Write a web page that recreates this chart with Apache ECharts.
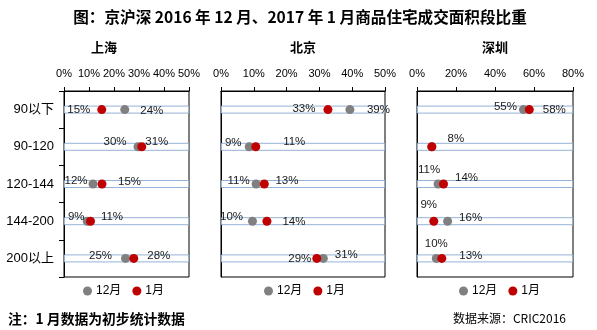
<!DOCTYPE html>
<html>
<head>
<meta charset="utf-8">
<script src="https://cdn.jsdelivr.net/npm/echarts@6/dist/echarts.min.js"></script>
<style>
html,body{margin:0;padding:0;background:#fff;}
#c{width:597px;height:330px;}
</style>
</head>
<body>
<div id="c"></div>
<script>
// ---- data ----
const categories = ['90以下', '90-120', '120-144', '144-200', '200以上'];
const cities = ['上海', '北京', '深圳'];
const shanghaiDec = [24.3, 29.6, 11.6, 9.3, 24.6];
const shanghaiJan = [15.1, 31.1, 15.2, 10.6, 27.9];
const beijingDec = [39.3, 8.6, 10.7, 9.6, 31.2];
const beijingJan = [32.6, 10.6, 13.2, 14.0, 29.2];
const shenzhenDec = [54.6, 7.6, 10.8, 15.7, 9.9];
const shenzhenJan = [57.6, 7.6, 13.6, 8.6, 12.7];
const axisMax = [50, 50, 80];
const axisInterval = [10, 10, 20];
const seriesNames = ['12月', '1月'];

// ---- label offsets (layout only) ----
const labelOffDec = [
  [[27, 1], [-23, -4.5], [-17, -3], [-11, -4], [-25, -2.7]],
  [[28.5, 0.4], [-16, -3.5], [-17.5, -3], [-21, -4.5], [23, -4]],
  [[-18, -2.3], null, [-9, -14], [23, -2.9], [0, -15]]
];
const labelOffJan = [
  [[-23, 0], [15, -5], [27.5, -1.7], [21.5, -4], [25, -2.7]],
  [[-24, -1], [38.5, -4.5], [22.6, -3], [27, 0.5], [-17, 0]],
  [[25, 0.4], [24, -8], [23, -6.3], [-5, -16], [29, -2.7]]
];

const decData = [shanghaiDec, beijingDec, shenzhenDec];
const janData = [shanghaiJan, beijingJan, shenzhenJan];

const grids = [
  {left: 64, top: 91, width: 125, height: 186},
  {left: 221, top: 91, width: 164, height: 186},
  {left: 417, top: 91, width: 156, height: 186}
];
const FONT = '"Liberation Sans", Arial, "Noto Sans CJK SC", sans-serif';
const CJK = '"Noto Sans CJK SC", "Liberation Sans", sans-serif';
const RED = '#c00000', GRAY = '#808080', BLUE = '#95b3d7';

function pts(vals, offs) {
  return vals.map((v, i) => {
    const o = offs[i];
    return {
      value: [v, categories[i]],
      label: o ? {show: true, offset: o} : {show: false}
    };
  });
}

const xAxis = [], yAxis = [], series = [], legend = [];
for (let k = 0; k < 3; k++) {
  xAxis.push({
    gridIndex: k, type: 'value', position: 'top', min: 0, max: axisMax[k], interval: axisInterval[k],
    axisLine: {show: true, lineStyle: {color: '#000', width: 1}},
    axisTick: {show: true, length: 4, inside: false, lineStyle: {color: '#000'}},
    axisLabel: {formatter: '{value}%', fontSize: 11, color: '#000', margin: 12, fontFamily: FONT},
    splitLine: {show: false}
  });
  yAxis.push({
    gridIndex: k, type: 'category', inverse: true, data: categories,
    axisLine: {show: true, lineStyle: {color: '#000', width: 1}},
    axisTick: {show: k === 0, length: 5, lineStyle: {color: '#000'}},
    axisLabel: {show: k === 0, fontSize: 13, color: '#000', margin: 10, fontFamily: FONT},
    splitLine: {show: false}
  });
  series.push({
    type: 'bar', xAxisIndex: k, yAxisIndex: k, barWidth: 8, silent: true, z: 1,
    data: categories.map(() => axisMax[k]),
    itemStyle: {color: 'rgba(255,255,255,0)', borderColor: BLUE, borderWidth: 1},
    label: {show: false}
  });
  const lbl = {
    position: 'inside', align: 'center', verticalAlign: 'middle', fontSize: 11.5,
    color: '#1a1a1a', fontFamily: FONT, textBorderWidth: 0,
    formatter: p => Math.round(p.value[0]) + '%'
  };
  series.push({
    name: seriesNames[0], type: 'scatter', xAxisIndex: k, yAxisIndex: k, symbol: 'circle', symbolSize: 9, z: 3,
    itemStyle: {color: GRAY, opacity: 1}, label: lbl,
    data: pts(decData[k], labelOffDec[k])
  });
  series.push({
    name: seriesNames[1], type: 'scatter', xAxisIndex: k, yAxisIndex: k, symbol: 'circle', symbolSize: 9, z: 4,
    itemStyle: {color: RED, opacity: 1}, label: lbl,
    data: pts(janData[k], labelOffJan[k])
  });
}
const legendLeft = [83, 264, 459];
for (let k = 0; k < 3; k++) {
  legend.push({
    data: seriesNames, left: legendLeft[k], top: 285, icon: 'circle', itemWidth: 9, itemHeight: 9,
    itemGap: 11, padding: 0, selectedMode: false,
    textStyle: {fontSize: 12, color: '#000', fontFamily: FONT, padding: [0, 0, 0, -1]}
  });
}

const subX = [104, 303, 495];
const graphic = [
  {type: 'text', x: 300, y: 17, style: {
    text: '图：京沪深 2016 年 12 月、2017 年 1 月商品住宅成交面积段比重',
    font: 'bold 15.6px ' + CJK, fill: '#000', align: 'center', verticalAlign: 'middle'}}
];
for (let k = 0; k < 3; k++) {
  graphic.push({type: 'text', x: subX[k], y: 47, style: {
    text: cities[k], font: 'bold 13px ' + CJK, fill: '#000', align: 'center', verticalAlign: 'middle'}});
}
graphic.push({type: 'text', x: 8, y: 319, style: {
  text: '注：1 月数据为初步统计数据', font: 'bold 13.8px ' + CJK, fill: '#000', align: 'left', verticalAlign: 'middle'}});
graphic.push({type: 'text', x: 566, y: 318, style: {
  text: '数据来源：CRIC2016', font: '12px ' + CJK, fill: '#000', align: 'right', verticalAlign: 'middle'}});

const chart = echarts.init(document.getElementById('c'), null, {renderer: 'canvas'});
chart.setOption({
  animation: false,
  backgroundColor: '#fff',
  grid: grids.map(g => Object.assign({show: true, borderColor: '#000', borderWidth: 1, backgroundColor: 'transparent', containLabel: false}, g)),
  xAxis, yAxis, series, legend, graphic
});
</script>
</body>
</html>
